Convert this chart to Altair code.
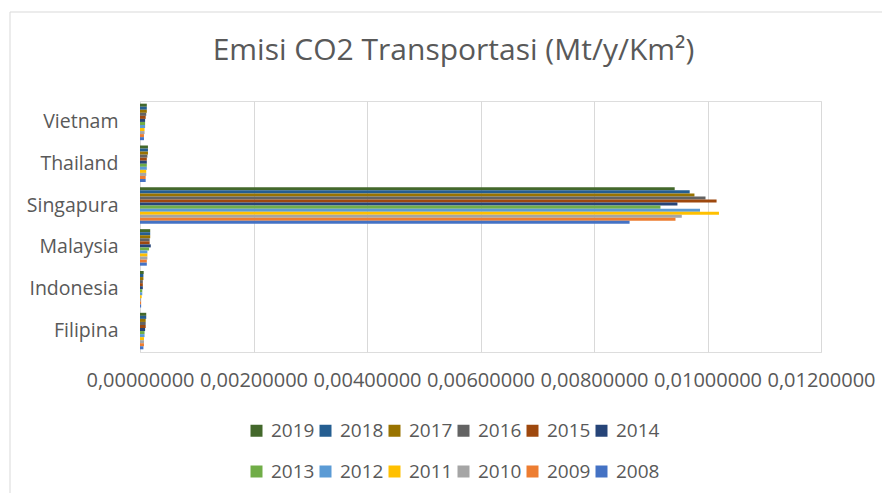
import altair as alt
import pandas as pd

countries = ["Vietnam", "Thailand", "Singapura", "Malaysia", "Indonesia", "Filipina"]
years = ["2019", "2018", "2017", "2016", "2015", "2014",
         "2013", "2012", "2011", "2010", "2009", "2008"]
colors = ["#43682B", "#255E91", "#997300", "#636363", "#9E480E", "#264478",
          "#70AD47", "#5B9BD5", "#FFC000", "#A5A5A5", "#ED7D31", "#4472C4"]

# values ordered 2019 -> 2008
vietnam = [0.00012, 0.00012, 0.00012, 0.00011, 0.00010, 0.00009,
           0.00009, 0.00009, 0.00008, 0.00008, 0.00007, 0.00007]
thailand = [0.00014, 0.00014, 0.00014, 0.00013, 0.00012, 0.00012,
            0.00012, 0.00012, 0.00011, 0.00011, 0.00010, 0.00010]
singapura = [0.009422, 0.009686, 0.009770, 0.009965, 0.010160, 0.009470,
             0.009171, 0.009868, 0.010202, 0.009547, 0.009436, 0.008627]
malaysia = [0.00018, 0.00018, 0.00018, 0.00017, 0.00017, 0.00019,
            0.00016, 0.00013, 0.00013, 0.00013, 0.00012, 0.00012]
indonesia = [0.000065, 0.00006, 0.00006, 0.00005, 0.00005, 0.00005,
             0.00004, 0.00004, 0.00003, 0.00002, 0.00002, 0.00002]
filipina = [0.00011, 0.00011, 0.00010, 0.00010, 0.00010, 0.00009,
            0.00008, 0.00008, 0.00007, 0.00007, 0.00007, 0.00006]

tick_values = [0, 0.002, 0.004, 0.006, 0.008, 0.010, 0.012]

series = [vietnam, thailand, singapura, malaysia, indonesia, filipina]
rows = []
for c, vals in zip(countries, series):
    for y, v in zip(years, vals):
        rows.append({"Negara": c, "Tahun": y, "Nilai": v})
df = pd.DataFrame(rows)

FONT = "Open Sans"
GREY = "#595959"

bars = alt.Chart(df).mark_bar().encode(
    y=alt.Y("Negara:N", sort=countries,
            scale=alt.Scale(paddingInner=0.127, paddingOuter=0.064),
            axis=alt.Axis(title=None, ticks=False, domain=True, domainColor="#D9D9D9",
                          labelFont=FONT, labelFontSize=19.5, labelColor=GREY,
                          labelPadding=22, grid=False)),
    yOffset=alt.YOffset("Tahun:N", sort=years,
                        scale=alt.Scale(paddingInner=0, paddingOuter=0)),
    x=alt.X("Nilai:Q",
            scale=alt.Scale(domain=[0, 0.012], nice=False),
            axis=alt.Axis(title=None, values=tick_values, ticks=False, domain=False,
                          grid=True, gridColor="#D9D9D9",
                          labelExpr="replace(format(datum.value, '.8f'), '.', ',')",
                          labelFont=FONT, labelFontSize=20, labelColor=GREY,
                          labelPadding=18, labelOverlap=False, labelFlush=False)),
    color=alt.Color("Tahun:N", sort=years,
                    scale=alt.Scale(domain=years, range=colors),
                    legend=alt.Legend(title=None, orient="none", legendX=107, legendY=320,
                                      columns=6, direction="horizontal", gridAlign="all",
                                      symbolType="square", symbolSize=144,
                                      symbolStrokeWidth=0, labelFont=FONT,
                                      labelFontSize=19, labelColor=GREY,
                                      labelOffset=5, columnPadding=1, rowPadding=21)),
)

border = alt.Chart(pd.DataFrame({"a": [0]})).mark_rect(
    fillOpacity=0, stroke="#D9D9D9", strokeWidth=1
).encode(x=alt.value(-130), x2=alt.value(900), y=alt.value(-89), y2=alt.value(600))

chart = alt.layer(border, bars).properties(
    width=681, height=251,
    title=alt.TitleParams("Emisi CO2 Transportasi (Mt/y/Km²)", font=FONT, fontSize=30,
                          fontWeight="normal", color=GREY, anchor="middle",
                          frame="group", dx=-27, offset=-54),
    padding={"left": 132, "top": 93, "right": 61, "bottom": 141},
    autosize=alt.AutoSizeParams(type="none"),
).configure_view(stroke=None).configure(background="white")

chart.save("out.html", embed_options={"renderer": "svg", "actions": False})
